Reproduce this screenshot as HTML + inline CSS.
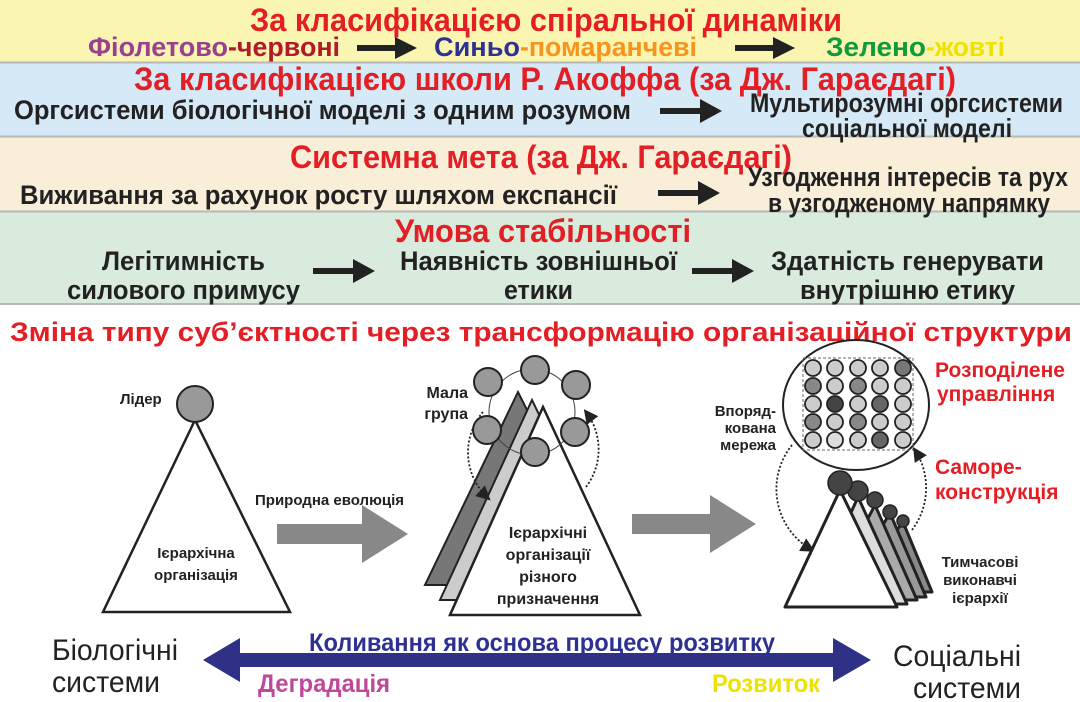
<!DOCTYPE html>
<html><head><meta charset="utf-8"><style>
html,body{margin:0;padding:0;background:#fff;}
svg{display:block}
.c{font-family:"Liberation Sans Narrow","Liberation Sans",sans-serif;font-weight:bold;}
.s{font-family:"Liberation Sans",sans-serif;font-weight:bold;}
</style></head><body>
<svg width="1080" height="702" viewBox="0 0 1080 702" xmlns="http://www.w3.org/2000/svg">
<defs>
<marker id="ah" markerWidth="8" markerHeight="8" refX="6" refY="4" orient="auto"><path d="M0,0 L8,4 L0,8 Z" fill="#222"/></marker>
</defs>
<rect x="0" y="0" width="1080" height="62" fill="#fbf5b2"/>
<rect x="0" y="63" width="1080" height="73" fill="#d5e9f6"/>
<rect x="0" y="137" width="1080" height="74" fill="#f9eed8"/>
<rect x="0" y="212" width="1080" height="92" fill="#d8ebdc"/>
<g stroke="#b8b8b8" stroke-width="2"><line x1="0" y1="62.5" x2="1080" y2="62.5"/><line x1="0" y1="136.5" x2="1080" y2="136.5"/><line x1="0" y1="211.5" x2="1080" y2="211.5"/><line x1="0" y1="304" x2="1080" y2="304"/></g>

<g class="c" fill="#e31e24" font-size="32">
<text x="250" y="31" textLength="592" lengthAdjust="spacingAndGlyphs">За класифікацією спіральної динаміки</text>
<text x="134" y="90" textLength="822" lengthAdjust="spacingAndGlyphs">За класифікацією школи Р. Акоффа (за Дж. Гараєдагі)</text>
<text x="290" y="168" textLength="502" lengthAdjust="spacingAndGlyphs">Системна мета (за Дж. Гараєдагі)</text>
<text x="395" y="242" textLength="296" lengthAdjust="spacingAndGlyphs">Умова стабільності</text>
</g>
<g class="c" font-size="27">
<text x="88" y="56" fill="#9b3f8f" textLength="140" lengthAdjust="spacingAndGlyphs">Фіолетово</text>
<text x="228" y="56" fill="#b01a2a" textLength="112" lengthAdjust="spacingAndGlyphs">-червоні</text>
<text x="434" y="56" fill="#2e3192" textLength="86" lengthAdjust="spacingAndGlyphs">Синьо</text>
<text x="520" y="56" fill="#f7941d" textLength="177" lengthAdjust="spacingAndGlyphs">-помаранчеві</text>
<text x="826" y="56" fill="#109a3c" textLength="100" lengthAdjust="spacingAndGlyphs">Зелено</text>
<text x="926" y="56" fill="#f0e200" textLength="79" lengthAdjust="spacingAndGlyphs">-жовті</text>
</g>
<g class="c" fill="#222" font-size="27">
<text x="14" y="119" textLength="617" lengthAdjust="spacingAndGlyphs">Оргсистеми біологічної моделі з одним розумом</text>
<text x="750" y="112" textLength="313" lengthAdjust="spacingAndGlyphs">Мультирозумні оргсистеми</text>
<text x="802" y="137" textLength="210" lengthAdjust="spacingAndGlyphs" font-size="26">соціальної моделі</text>
<text x="20" y="204" textLength="597" lengthAdjust="spacingAndGlyphs">Виживання за рахунок росту шляхом експансії</text>
<text x="748" y="186" textLength="320" lengthAdjust="spacingAndGlyphs">Узгодження інтересів та рух</text>
<text x="768" y="212" textLength="282" lengthAdjust="spacingAndGlyphs">в узгодженому напрямку</text>
<text x="102" y="270" textLength="163" lengthAdjust="spacingAndGlyphs">Легітимність</text>
<text x="67" y="299" textLength="233" lengthAdjust="spacingAndGlyphs">силового примусу</text>
<text x="400" y="270" textLength="277" lengthAdjust="spacingAndGlyphs">Наявність зовнішньої</text>
<text x="504" y="299" textLength="69" lengthAdjust="spacingAndGlyphs">етики</text>
<text x="771" y="270" textLength="273" lengthAdjust="spacingAndGlyphs">Здатність генерувати</text>
<text x="800" y="299" textLength="215" lengthAdjust="spacingAndGlyphs">внутрішню етику</text>
</g>
<g fill="#222">
<path d="M357,45 h38 v-8 l22,11 l-22,11 v-8 h-38z"/>
<path d="M735,45 h38 v-8 l22,11 l-22,11 v-8 h-38z"/>
<path d="M660,108 h40 v-9 l22,12 l-22,12 v-9 h-40z"/>
<path d="M658,190 h40 v-9 l22,12 l-22,12 v-9 h-40z"/>
<path d="M313,268 h40 v-9 l22,12 l-22,12 v-9 h-40z"/>
<path d="M692,268 h40 v-9 l22,12 l-22,12 v-9 h-40z"/>
</g>

<text class="s" x="10" y="341" fill="#e31e24" font-size="27" textLength="1062" lengthAdjust="spacingAndGlyphs">Зміна типу суб’єктності через трансформацію організаційної структури</text>

<polygon points="195,420 103,612 290,612" fill="#fff" stroke="#222" stroke-width="2.5"/>
<circle cx="195" cy="404" r="18" fill="#999" stroke="#222" stroke-width="2"/>
<g class="s" fill="#222" font-size="15">
<text x="120" y="404">Лідер</text>
<text x="196" y="558" text-anchor="middle">Ієрархічна</text>
<text x="196" y="580" text-anchor="middle">організація</text>
<text x="255" y="505">Природна еволюція</text>
</g>
<path d="M277,524 h85 v-19 l46,29 l-46,29 v-19 h-85z" fill="#888"/>

<polygon points="518,392 425,585 615,585" fill="#777" stroke="#222" stroke-width="2"/>
<polygon points="532,400 440,600 628,600" fill="#ccc" stroke="#222" stroke-width="2"/>
<polygon points="543,407 450,615 640,615" fill="#fff" stroke="#222" stroke-width="2.5"/>
<circle cx="532" cy="412" r="43" fill="none" stroke="#444" stroke-width="1"/>
<path d="M483,412 A62,62 0 0 0 488,498" fill="none" stroke="#222" stroke-width="1.8" stroke-dasharray="2,2" marker-end="url(#ah)"/>
<path d="M586,487 A62,62 0 0 0 586,412" fill="none" stroke="#222" stroke-width="1.8" stroke-dasharray="2,2" marker-end="url(#ah)"/>
<g fill="#999" stroke="#222" stroke-width="2">
<circle cx="535" cy="370" r="14"/><circle cx="488" cy="382" r="14"/><circle cx="576" cy="385" r="14"/>
<circle cx="487" cy="430" r="14"/><circle cx="575" cy="432" r="14"/><circle cx="535" cy="452" r="14"/>
</g>
<g class="s" fill="#222" font-size="16">
<text x="468" y="398" text-anchor="end">Мала</text>
<text x="468" y="419" text-anchor="end">група</text>
<text x="548" y="538" text-anchor="middle">Ієрархічні</text>
<text x="548" y="560" text-anchor="middle">організації</text>
<text x="548" y="582" text-anchor="middle">різного</text>
<text x="548" y="604" text-anchor="middle">призначення</text>
</g>
<path d="M632,514 h78 v-19 l46,29 l-46,29 v-19 h-78z" fill="#888"/>

<ellipse cx="856" cy="405" rx="73" ry="65" fill="#fff" stroke="#222" stroke-width="2"/>
<rect x="803" y="358" width="110" height="92" fill="none" stroke="#666" stroke-width="1" stroke-dasharray="3,2"/>
<g stroke="#222" stroke-width="1.8">
<g fill="#ccc">
<circle cx="813" cy="368" r="8"/><circle cx="835" cy="368" r="8"/><circle cx="858" cy="368" r="8"/><circle cx="880" cy="368" r="8"/><circle cx="903" cy="368" r="8" fill="#777"/>
<circle cx="813" cy="386" r="8" fill="#888"/><circle cx="835" cy="386" r="8"/><circle cx="858" cy="386" r="8" fill="#888"/><circle cx="880" cy="386" r="8"/><circle cx="903" cy="386" r="8"/>
<circle cx="813" cy="404" r="8"/><circle cx="835" cy="404" r="8" fill="#444"/><circle cx="858" cy="404" r="8"/><circle cx="880" cy="404" r="8" fill="#666"/><circle cx="903" cy="404" r="8"/>
<circle cx="813" cy="422" r="8" fill="#888"/><circle cx="835" cy="422" r="8"/><circle cx="858" cy="422" r="8" fill="#888"/><circle cx="880" cy="422" r="8"/><circle cx="903" cy="422" r="8"/>
<circle cx="813" cy="440" r="8"/><circle cx="835" cy="440" r="8" fill="#ddd"/><circle cx="858" cy="440" r="8"/><circle cx="880" cy="440" r="8" fill="#666"/><circle cx="903" cy="440" r="8"/>
</g></g>
<path d="M792,445 A70,70 0 0 0 812,550" fill="none" stroke="#222" stroke-width="1.8" stroke-dasharray="2,2" marker-end="url(#ah)"/>
<path d="M912,530 A70,70 0 0 0 915,450" fill="none" stroke="#222" stroke-width="1.8" stroke-dasharray="2,2" marker-end="url(#ah)"/>
<g stroke="#222" stroke-width="3" stroke-linejoin="round">
<polygon points="903,522 850,592 932,592" fill="#888"/>
<polygon points="890,513 840,597 926,597" fill="#999"/>
<polygon points="875,505 825,600 917,600" fill="#aaa"/>
<polygon points="858,497 810,604 907,604" fill="#ddd"/>
<polygon points="840,490 785,607 897,607" fill="#fff"/>
</g>
<g fill="#444" stroke="#222" stroke-width="1.5">
<circle cx="903" cy="521" r="6"/><circle cx="890" cy="512" r="7"/><circle cx="875" cy="500" r="8"/><circle cx="858" cy="491" r="10"/><circle cx="840" cy="483" r="12"/>
</g>
<g class="s" fill="#222" font-size="15">
<text x="776" y="416" text-anchor="end">Впоряд-</text>
<text x="776" y="433" text-anchor="end">кована</text>
<text x="776" y="450" text-anchor="end">мережа</text>
<text x="980" y="567" text-anchor="middle">Тимчасові</text>
<text x="980" y="585" text-anchor="middle">виконавчі</text>
<text x="980" y="603" text-anchor="middle">ієрархії</text>
</g>
<g class="s" fill="#e31e24" font-size="21">
<text x="935" y="377">Розподілене</text>
<text x="937" y="401">управління</text>
<text x="935" y="474">Саморе-</text>
<text x="935" y="499">конструкція</text>
</g>

<path d="M203,660 L240,638 L240,653 L833,653 L833,638 L871,660 L833,682 L833,667 L240,667 L240,682 Z" fill="#2e3185"/>
<text class="c" x="309" y="651" fill="#2e3192" font-size="25" textLength="466" lengthAdjust="spacingAndGlyphs">Коливання як основа процесу розвитку</text>
<text class="c" x="258" y="692" fill="#c0489a" font-size="25" textLength="132" lengthAdjust="spacingAndGlyphs">Деградація</text>
<text class="c" x="712" y="692" fill="#efe100" font-size="25" textLength="108" lengthAdjust="spacingAndGlyphs">Розвиток</text>
<g font-family="'Liberation Sans Narrow','Liberation Sans',sans-serif" fill="#222" font-size="30">
<text x="52" y="660" textLength="126" lengthAdjust="spacingAndGlyphs">Біологічні</text>
<text x="52" y="692" textLength="108" lengthAdjust="spacingAndGlyphs">системи</text>
<text x="893" y="666" textLength="128" lengthAdjust="spacingAndGlyphs">Соціальні</text>
<text x="913" y="698" textLength="108" lengthAdjust="spacingAndGlyphs">системи</text>
</g>
</svg>
</body></html>
